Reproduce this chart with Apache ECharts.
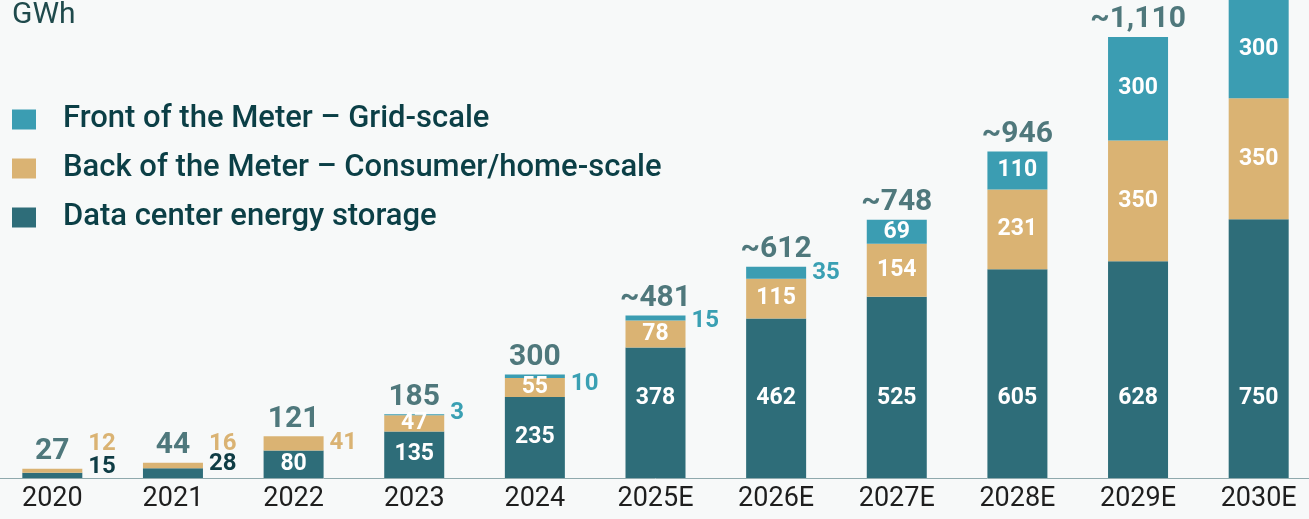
<!DOCTYPE html>
<html>
<head>
<meta charset="utf-8">
<script src="https://cdn.jsdelivr.net/npm/echarts@6/dist/echarts.min.js"></script>
<style>
  html, body { margin: 0; padding: 0; background: #f7f9f9; overflow: hidden; }
  /* chart is a bit wider than the window: first and last bars sit at the edges */
  #chart { position: absolute; left: -8px; top: 0; width: 1327px; height: 519px; }
</style>
</head>
<body>
<div id="chart"></div>
<script>
// values (GWh)
const years = ['2020', '2021', '2022', '2023', '2024', '2025E', '2026E', '2027E', '2028E', '2029E', '2030E'];
const dataCenter = [15, 28, 80, 135, 235, 378, 462, 525, 605, 628, 750];
const backMeter = [12, 16, 41, 47, 55, 78, 115, 154, 231, 350, 350];
const frontMeter = [0, 0, 0, 3, 10, 15, 35, 69, 110, 300, 300];
const totals = ['27', '44', '121', '185', '300', '~481', '~612', '~748', '~946', '~1,110', ''];

const names = ['Front of the Meter – Grid-scale', 'Back of the Meter – Consumer/home-scale', 'Data center energy storage'];
const colors = { dc: '#2e6d79', back: '#dab373', front: '#3b9db2' };
const sideColors = { dc: '#0f3d45', back: '#dab373', front: '#3aa0b3' };

// segments too thin for an inside label: label sits to the right, with a vertical nudge
const sideLabels = {
  dc: { 0: -8, 1: -9 },
  back: { 0: -27, 1: -22, 2: 0 },
  front: { 3: -2, 4: 8, 5: 3, 6: 0 }
};

const chart = echarts.init(document.getElementById('chart'));
const font = 'Roboto, "Noto Sans", sans-serif';

function buildData(values, key) {
  return values.map(function (v, i) {
    if (v === 0) return { value: v, label: { show: false } };
    if (sideLabels[key][i] !== undefined) {
      return {
        value: v,
        label: {
          show: true, position: 'right', distance: 6,
          offset: [0, sideLabels[key][i]],
          color: sideColors[key], fontSize: 24, fontWeight: 'bold'
        }
      };
    }
    if (key === 'dc' && v >= 300) {
      return { value: v, label: { show: true, position: 'insideBottom', distance: 68 } };
    }
    return { value: v };
  });
}

const insideLabel = {
  show: true, position: 'inside', color: '#ffffff',
  fontSize: 23, fontWeight: 'bold', fontFamily: font
};

const sums = years.map(function (y, i) { return dataCenter[i] + backMeter[i] + frontMeter[i]; });

const option = {
  backgroundColor: '#f7f9f9',
  animation: false,
  textStyle: { fontFamily: font },
  grid: { left: 0, right: 0, top: 0, bottom: 41, outerBoundsMode: 'none' },
  graphic: [{
    type: 'text', left: 20, top: 0,
    style: { text: 'GWh', fontSize: 30, fill: '#1f4a4c', fontFamily: font }
  }],
  legend: {
    data: names,
    orient: 'vertical',
    left: 15, top: 99,
    itemWidth: 24, itemHeight: 20,
    itemGap: 18,
    icon: 'rect',
    textStyle: {
      fontSize: 31, lineHeight: 31, color: '#0b3f46', fontWeight: 500, fontFamily: font,
      padding: [0, 0, 0, 22]
    }
  },
  xAxis: {
    type: 'category',
    data: years,
    axisLine: { lineStyle: { color: '#8fa9ad', width: 1 } },
    axisTick: { show: false },
    axisLabel: { fontSize: 27, color: '#1e1e1e', margin: 8, fontFamily: font }
  },
  yAxis: {
    type: 'value', min: 0, max: 1385, show: false,
    splitLine: { show: false }
  },
  series: [
    {
      name: names[2], type: 'bar', stack: 'total', barWidth: 60,
      itemStyle: { color: colors.dc },
      label: insideLabel,
      data: buildData(dataCenter, 'dc')
    },
    {
      name: names[1], type: 'bar', stack: 'total', barWidth: 60,
      itemStyle: { color: colors.back },
      label: insideLabel,
      data: buildData(backMeter, 'back')
    },
    {
      name: names[0], type: 'bar', stack: 'total', barWidth: 60,
      itemStyle: { color: colors.front },
      label: insideLabel,
      data: buildData(frontMeter, 'front')
    },
    {
      name: 'total', type: 'scatter', symbolSize: 0,
      data: sums,
      label: {
        show: true, position: 'top', distance: 2,
        fontSize: 30, fontWeight: 'bold', color: '#24575c', fontFamily: font,
        formatter: function (p) { return totals[p.dataIndex]; }
      }
    }
  ]
};

chart.setOption(option);
</script>
</body>
</html>
